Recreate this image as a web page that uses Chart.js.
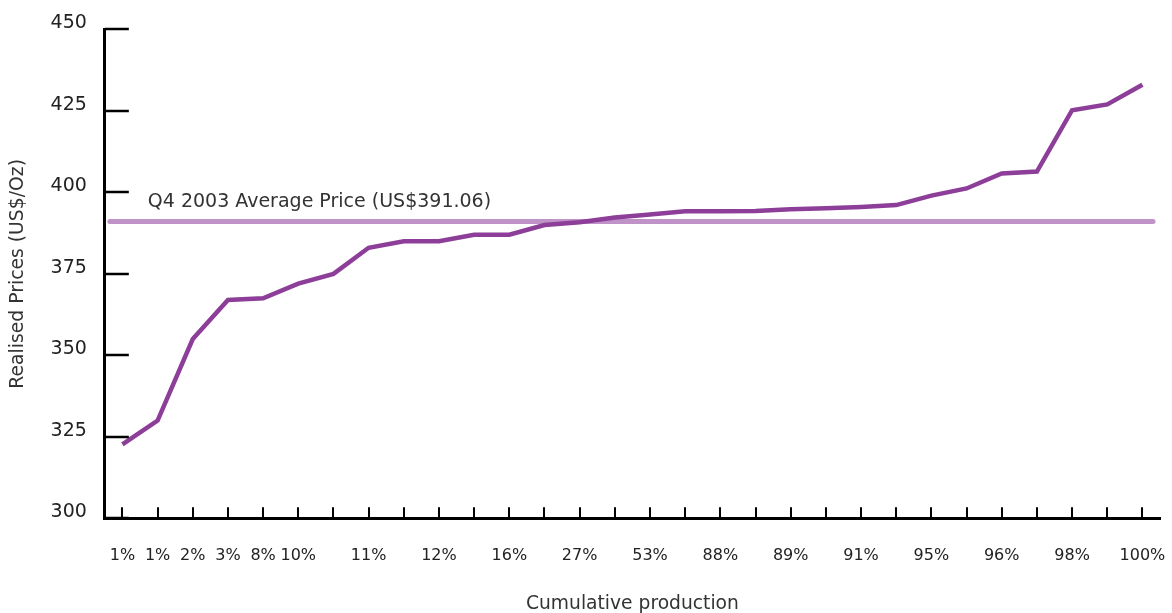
<!DOCTYPE html>
<html>
<head>
<meta charset="utf-8">
<script src="https://cdn.jsdelivr.net/npm/chart.js@4"></script>
<style>
  html, body { margin: 0; padding: 0; background: #fff; }
  #wrap { width: 1172px; height: 613px; }
</style>
</head>
<body>
<div id="wrap"><canvas id="grafico"></canvas></div>
<script>
// datos
var categorias = ['1%', '1%', '2%', '3%', '8%', '10%', '', '11%', '', '12%', '', '16%', '', '27%', '',
    '53%', '', '88%', '', '89%', '', '91%', '', '95%', '', '96%', '', '98%', '', '100%'];
var precios = [322.7, 330, 355, 367, 367.5, 372, 375, 383, 385, 385, 387, 387, 390, 390.8, 392.3,
    393.2, 394.2, 394.2, 394.3, 394.8, 395.1, 395.5, 396.1, 399, 401.2, 405.8, 406.4, 425.2, 427, 433];
var precioPromedio = 391.06;
var textoPromedio = 'Q4 2003 Average Price (US$391.06)';
var ticksY = [300, 325, 350, 375, 400, 425, 450];

var fuente = 'DejaVu Sans, Verdana, sans-serif';

// linea del precio promedio + marcas de los ejes hacia adentro
var lineaPromedio = {
    id: 'lineaPromedio',
    beforeDatasetsDraw: function (chart) {
        var ctx = chart.ctx;
        var area = chart.chartArea;
        var y = chart.scales.y.getPixelForValue(precioPromedio);
        ctx.save();
        ctx.strokeStyle = '#bf93c7';
        ctx.lineWidth = 5;
        ctx.lineCap = 'round';
        ctx.beginPath();
        ctx.moveTo(area.left + 5, y);
        ctx.lineTo(area.right - 7, y);
        ctx.stroke();
        ctx.fillStyle = '#333';
        ctx.font = '19px ' + fuente;
        ctx.textBaseline = 'alphabetic';
        ctx.textAlign = 'left';
        ctx.fillText(textoPromedio, area.left + 43, y - 15);
        ctx.restore();
    },
    afterDraw: function (chart) {
        var ctx = chart.ctx;
        var area = chart.chartArea;
        var sx = chart.scales.x, sy = chart.scales.y;
        ctx.save();
        ctx.strokeStyle = '#000';
        ctx.lineWidth = 2.5;
        ctx.beginPath();
        sy.ticks.forEach(function (t, i) {
            var p = Math.round(sy.getPixelForTick(i));
            ctx.moveTo(area.left, p);
            ctx.lineTo(area.left + 24, p);
        });
        ctx.stroke();
        ctx.lineWidth = 2;
        ctx.beginPath();
        sx.ticks.forEach(function (t, i) {
            var p = Math.round(sx.getPixelForTick(i));
            ctx.moveTo(p, area.bottom);
            ctx.lineTo(p, area.bottom - 11);
        });
        ctx.stroke();
        ctx.restore();
    }
};

var config = {
    type: 'line',
    data: {
        labels: categorias,
        datasets: [{
            data: precios,
            borderColor: '#8d3e99',
            borderWidth: 4.5,
            pointRadius: 0,
            tension: 0,
            fill: false
        }]
    },
    options: {
        responsive: false,
        animation: false,
        layout: {
            padding: { left: 0, right: 12, top: 0, bottom: 0 }
        },
        plugins: {
            legend: { display: false },
            tooltip: { enabled: false }
        },
        scales: {
            x: {
                offset: true,
                border: { color: '#000', width: 3 },
                grid: { display: true, drawOnChartArea: false, drawTicks: false },
                ticks: {
                    autoSkip: false,
                    maxRotation: 0,
                    padding: 0,
                    color: '#222',
                    font: { family: fuente, size: 16, lineHeight: 4.75 }
                },
                title: {
                    display: true,
                    text: 'Cumulative production',
                    color: '#333',
                    font: { family: fuente, size: 18.7, lineHeight: 1 },
                    padding: { top: 0, bottom: 0 }
                }
            },
            y: {
                min: 300,
                max: 450,
                afterBuildTicks: function (scale) {
                    scale.ticks = ticksY.map(function (v) { return { value: v }; });
                },
                border: { color: '#000', width: 3 },
                grid: { display: true, drawOnChartArea: false, drawTicks: false },
                ticks: {
                    padding: 18,
                    labelOffset: -6,
                    color: '#222',
                    font: { family: fuente, size: 19 }
                },
                title: {
                    display: true,
                    text: 'Realised Prices (US$/Oz)',
                    color: '#333',
                    font: { family: fuente, size: 18.8 },
                    padding: { top: 7, bottom: 3 }
                }
            }
        }
    },
    plugins: [lineaPromedio]
};

window.onload = function () {
    var ctx = document.getElementById('grafico');
    ctx.width = 1172;
    ctx.height = 613;
    window.miGrafico = new Chart(ctx, config);
};
</script>
</body>
</html>
